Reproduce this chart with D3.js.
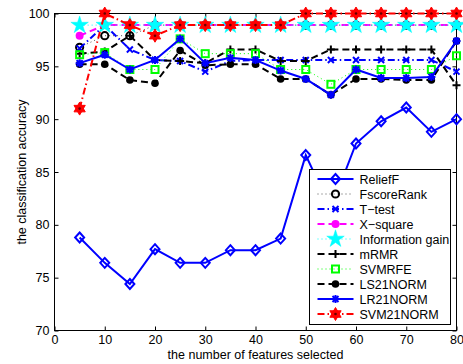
<!DOCTYPE html>
<html>
<head>
<meta charset="utf-8">
<script src="https://cdn.jsdelivr.net/npm/d3@7"></script>
<style>
  html, body { margin: 0; padding: 0; background: #fff; }
  svg { display: block; font-family: "Liberation Sans", Arial, Helvetica, sans-serif; }
</style>
</head>
<body>
<svg id="chart" width="463" height="364"></svg>
<script>
// Number of selected features (x values)
const features = [5, 10, 15, 20, 25, 30, 35, 40, 45, 50, 55, 60, 65, 70, 75, 80];

// Classification accuracy (%) for each feature-selection method
const reliefF     = [78.8, 76.4, 74.4, 77.7, 76.4, 76.4, 77.6, 77.6, 78.7, 86.6, 81.5, 87.7, 89.8, 91.1, 88.8, 90.0];
const fscoreRank  = [96.8, 97.9, 97.9, 98.9, 98.9, 98.9, 98.9, 98.9, 98.9, 98.9, 98.9, 98.9, 98.9, 98.9, 98.9, 98.9];
const tTest       = [96.7, 98.9, 96.6, 95.6, 95.5, 94.5, 95.5, 95.6, 95.6, 95.6, 95.6, 95.6, 95.6, 95.6, 95.6, 94.5];
const xSquare     = [97.9, 98.9, 98.9, 98.9, 98.9, 98.9, 98.9, 98.9, 98.9, 98.9, 98.9, 98.9, 98.9, 98.9, 98.9, 98.9];
const infoGain    = [98.9, 98.9, 98.9, 98.9, 98.9, 98.9, 98.9, 98.9, 98.9, 98.9, 98.9, 98.9, 98.9, 98.9, 98.9, 98.9];
const mRMR        = [96.2, 96.4, 97.9, 95.6, 95.5, 95.3, 96.6, 96.6, 95.5, 95.5, 96.6, 96.6, 96.6, 96.6, 96.6, 93.2];
const svmRFE      = [96.1, 96.3, 94.7, 94.7, 97.6, 96.2, 96.2, 96.2, 94.7, 94.7, 93.3, 94.7, 94.7, 94.7, 94.7, 96.0];
const ls21Norm    = [95.2, 95.2, 93.7, 93.4, 96.5, 95.1, 95.2, 95.2, 93.8, 93.8, 92.3, 93.8, 93.8, 93.7, 93.7, 97.4];
const lr21Norm    = [95.3, 96.1, 94.7, 95.6, 97.6, 95.3, 95.8, 95.6, 94.6, 93.8, 92.3, 94.7, 93.9, 93.9, 94.0, 97.4];
const svm21Norm   = [91.0, 100.0, 98.9, 97.9, 98.9, 98.9, 98.9, 98.9, 98.9, 100.0, 100.0, 100.0, 100.0, 100.0, 100.0, 100.0];

// Axis ticks
const xTicks = [0, 10, 20, 30, 40, 50, 60, 70, 80];
const yTicks = [70, 75, 80, 85, 90, 95, 100];

// Series styling (drawn in this order, later ones on top)
const series = [
  { name: "ReliefF",          values: reliefF,    color: "#0000ff", width: 2,   dash: null,        marker: "diamond" },
  { name: "FscoreRank",       values: fscoreRank, color: "#000000", width: 1,   dash: "1,3",       marker: "circleOpen", lineColor: "#555" },
  { name: "T\u2212test",      values: tTest,      color: "#0000ff", width: 2,   dash: "7,3,1.5,3", marker: "x" },
  { name: "X\u2212square",    values: xSquare,    color: "#ff00ff", width: 2,   dash: "7,4",       marker: "dot" },
  { name: "Information gain", values: infoGain,   color: "#00ffff", width: 1,   dash: "1,3",       marker: "star" },
  { name: "mRMR",             values: mRMR,       color: "#000000", width: 2,   dash: "7,4",       marker: "plus" },
  { name: "SVMRFE",           values: svmRFE,     color: "#00ff00", width: 1,   dash: "1,3",       marker: "square" },
  { name: "LS21NORM",         values: ls21Norm,   color: "#000000", width: 2,   dash: "7,4",       marker: "dotBlack" },
  { name: "LR21NORM",         values: lr21Norm,   color: "#0000ff", width: 2,   dash: null,        marker: "asterisk" },
  { name: "SVM21NORM",        values: svm21Norm,  color: "#ff0000", width: 2,   dash: "7,3,1.5,3", marker: "hexagram" }
];

const svg = d3.select("#chart");
const plotLeft = 54.5, plotRight = 456.5, plotTop = 13.5, plotBottom = 330.5;

const x = d3.scaleLinear().domain([0, 80]).range([plotLeft, plotRight]);
const y = d3.scaleLinear().domain([70, 100]).range([plotBottom, plotTop]);

// Axes with inward ticks on all four sides
const tickFont = g => g.selectAll("text").attr("font-size", 12.5).attr("fill", "#000");
svg.append("g").attr("transform", `translate(0,${plotBottom})`)
  .call(d3.axisBottom(x).tickValues(xTicks).tickSize(-4).tickPadding(5).tickFormat(d3.format("d")))
  .call(g => g.select(".domain").remove()).call(tickFont);
svg.append("g").attr("transform", `translate(0,${plotTop})`)
  .call(d3.axisTop(x).tickValues(xTicks).tickSize(-4).tickFormat(""))
  .call(g => g.select(".domain").remove());
svg.append("g").attr("transform", `translate(${plotLeft},0)`)
  .call(d3.axisLeft(y).tickValues(yTicks).tickSize(-4).tickPadding(5).tickFormat(d3.format("d")))
  .call(g => g.select(".domain").remove()).call(tickFont);
svg.append("g").attr("transform", `translate(${plotRight},0)`)
  .call(d3.axisRight(y).tickValues(yTicks).tickSize(-4).tickFormat(""))
  .call(g => g.select(".domain").remove());

svg.append("rect")
  .attr("x", plotLeft).attr("y", plotTop)
  .attr("width", plotRight - plotLeft).attr("height", plotBottom - plotTop)
  .attr("fill", "none").attr("stroke", "#000").attr("stroke-width", 1);

// Axis titles
svg.append("text")
  .attr("x", (plotLeft + plotRight) / 2).attr("y", 359)
  .attr("text-anchor", "middle").attr("font-size", 12.5)
  .text("the number of features selected");
svg.append("text")
  .attr("transform", `translate(26,${(plotTop + plotBottom) / 2}) rotate(-90)`)
  .attr("text-anchor", "middle").attr("font-size", 12.5)
  .text("the classification accuracy");

// Marker drawing
function hexagramPath(r) {
  const pts = a => d3.range(3).map(i => {
    const t = a + i * 2 * Math.PI / 3;
    return [r * Math.cos(t), r * Math.sin(t)];
  });
  const tri = p => "M" + p.map(q => q.join(",")).join("L") + "Z";
  return tri(pts(-Math.PI / 2)) + tri(pts(Math.PI / 2));
}

function drawMarker(g, type, color, cx, cy) {
  const m = g.append("g").attr("transform", `translate(${cx},${cy})`);
  switch (type) {
    case "diamond":
      m.append("path").attr("d", "M0,-5L4.5,0L0,5L-4.5,0Z")
        .attr("fill", "none").attr("stroke", color).attr("stroke-width", 2);
      break;
    case "circleOpen":
      m.append("circle").attr("r", 3.6)
        .attr("fill", "none").attr("stroke", color).attr("stroke-width", 2);
      break;
    case "x":
      m.append("path").attr("d", "M-3,-3L3,3M-3,3L3,-3")
        .attr("stroke", color).attr("stroke-width", 2);
      break;
    case "dot":
      m.append("circle").attr("r", 4).attr("fill", color);
      break;
    case "dotBlack":
      m.append("circle").attr("r", 3.8).attr("fill", color);
      break;
    case "star":
      m.append("path").attr("d", d3.symbol(d3.symbolStar, 95)())
        .attr("fill", color).attr("stroke", color).attr("stroke-width", 0.5);
      break;
    case "plus":
      m.append("path").attr("d", "M-4,0L4,0M0,-4L0,4")
        .attr("stroke", color).attr("stroke-width", 2);
      break;
    case "square":
      m.append("rect").attr("x", -3.5).attr("y", -3.5).attr("width", 7).attr("height", 7)
        .attr("fill", "none").attr("stroke", color).attr("stroke-width", 2);
      break;
    case "asterisk":
      m.append("path").attr("d", "M-4,0L4,0M0,-4L0,4M-3,-3L3,3M-3,3L3,-3")
        .attr("stroke", color).attr("stroke-width", 2);
      break;
    case "hexagram":
      m.append("path").attr("d", hexagramPath(6.5))
        .attr("fill", color).attr("stroke", color).attr("stroke-width", 1);
      m.append("circle").attr("r", 1.3).attr("fill", "#600");
      break;
  }
}

const line = d3.line().x((d, i) => x(features[i])).y(d => y(d));
const plot = svg.append("g");

series.forEach(s => {
  const g = plot.append("g");
  g.append("path").datum(s.values)
    .attr("d", line)
    .attr("fill", "none")
    .attr("stroke", s.lineColor || s.color)
    .attr("stroke-width", s.width)
    .attr("stroke-dasharray", s.dash);
  s.values.forEach((v, i) => drawMarker(g, s.marker, s.color, x(features[i]), y(v)));
});

// Legend
const lg = svg.append("g");
const lx = 309.5, ly = 169.5, lw = 141, lh = 155, rowH = 15;
lg.append("rect").attr("x", lx).attr("y", ly).attr("width", lw).attr("height", lh)
  .attr("fill", "#fff").attr("stroke", "#000").attr("stroke-width", 1);
series.forEach((s, i) => {
  const cy = ly + 9.5 + i * rowH;
  lg.append("line").attr("x1", lx + 8).attr("x2", lx + 44).attr("y1", cy).attr("y2", cy)
    .attr("stroke", s.lineColor || s.color).attr("stroke-width", s.width)
    .attr("stroke-dasharray", s.dash);
  drawMarker(lg, s.marker, s.color, lx + 26, cy);
  lg.append("text").attr("x", lx + 50).attr("y", cy + 4.5)
    .attr("font-size", 12.5).text(s.name);
});
</script>
</body>
</html>
